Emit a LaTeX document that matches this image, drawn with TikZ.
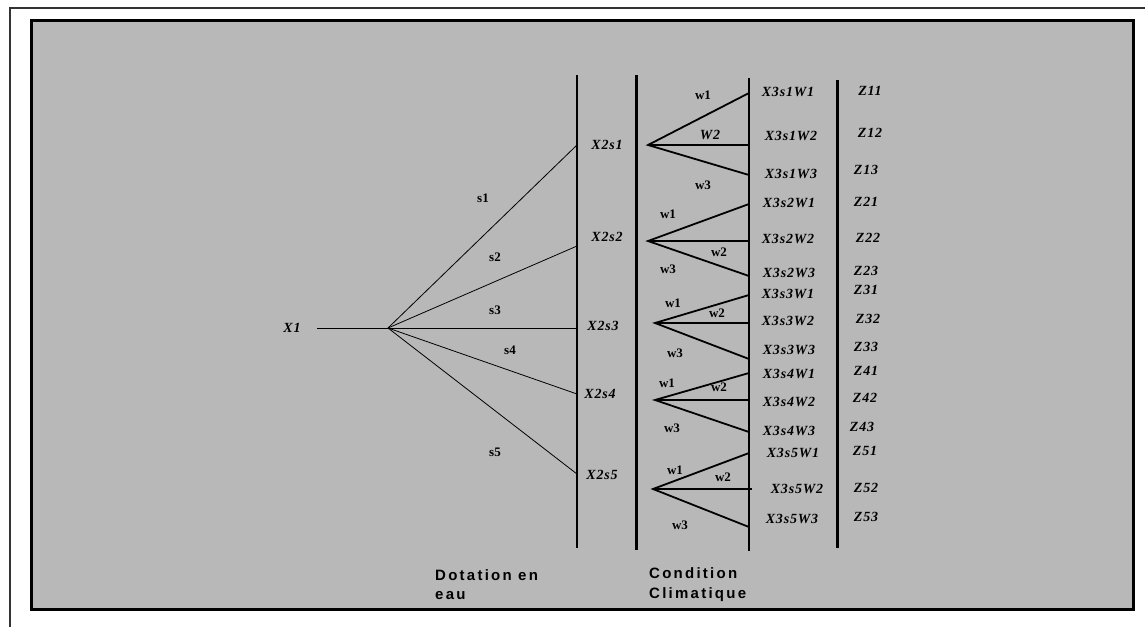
\documentclass[tikz,border=0pt]{standalone}
\usepackage{fontspec}
\setmainfont{Liberation Serif}
\newfontfamily\labfont[LetterSpace=6]{Liberation Serif}
\newfontfamily\capfont[LetterSpace=15]{Liberation Sans}
\definecolor{panelgray}{RGB}{184,184,184}
\tikzset{
	lab/.style={inner sep=0pt, font=\labfont\bfseries\itshape\fontsize{14}{14}\selectfont},
	tag/.style={inner sep=0pt, font=\bfseries\fontsize{13}{13}\selectfont},
	captext/.style={inner sep=0pt, anchor=base west, font=\capfont\bfseries\fontsize{15}{15}\selectfont},
	branch/.style={line width=0.8pt},
	twig/.style={line width=1.8pt},
}

\begin{document}
\begin{tikzpicture}[x=1pt, y=-1pt]
	\useasboundingbox (0, 0) rectangle (1145, 627);
	% frames
	\draw[line width=1.5pt, black!80] (10, 627) -- (10, 8) -- (1145, 8);
	\draw[line width=3pt, fill=panelgray] (31, 20) rectangle (1133, 609);
	% columns
	\draw[line width=1.3pt] (577, 75) -- (577, 548);
	\draw[line width=3pt] (636, 75) -- (636, 550);
	\draw[line width=1.8pt] (749, 78) -- (749, 551);
	\draw[line width=3pt] (837, 80) -- (837, 548);
	% first stage
	\node[lab] (x1) at (292, 328) {X1};
	\coordinate (x1end) at (317, 328);
	\coordinate (fan) at (388, 328);
	\draw[branch] (x1end) -- (fan);
	\coordinate (b1) at (577, 145);
	\coordinate (b2) at (577, 246);
	\coordinate (b3) at (577, 328);
	\coordinate (b4) at (577, 394);
	\coordinate (b5) at (577, 474);
	\draw[branch] (fan) -- (b1);
	\draw[branch] (fan) -- (b2);
	\draw[branch] (fan) -- (b3);
	\draw[branch] (fan) -- (b4);
	\draw[branch] (fan) -- (b5);
	\node[tag] (s1) at (483, 198) {s1};
	\node[tag] (s2) at (495, 257) {s2};
	\node[tag] (s3) at (495, 310) {s3};
	\node[tag] (s4) at (510, 350) {s4};
	\node[tag] (s5) at (495, 452) {s5};
	\node[lab] (x2s1) at (607, 145) {X2s1};
	\node[lab] (x2s2) at (607, 237) {X2s2};
	\node[lab] (x2s3) at (603, 326) {X2s3};
	\node[lab] (x2s4) at (600, 394) {X2s4};
	\node[lab] (x2s5) at (602, 475) {X2s5};
	% second stage
	\coordinate (o1) at (648, 145);
	\coordinate (o2) at (648, 241);
	\coordinate (o3) at (655, 323);
	\coordinate (o4) at (655, 400);
	\coordinate (o5) at (653, 489);
	\coordinate (e11) at (749, 93);
	\coordinate (e12) at (749, 145);
	\coordinate (e13) at (749, 175);
	\coordinate (e21) at (749, 204);
	\coordinate (e22) at (749, 241);
	\coordinate (e23) at (749, 276);
	\coordinate (e31) at (749, 295);
	\coordinate (e32) at (749, 323);
	\coordinate (e33) at (749, 359);
	\coordinate (e41) at (749, 373);
	\coordinate (e42) at (749, 400);
	\coordinate (e43) at (749, 432);
	\coordinate (e51) at (749, 453);
	\coordinate (e52) at (752, 489);
	\coordinate (e53) at (749, 527);
	\draw[twig] (e11) -- (o1) -- (e13);
	\draw[twig] (o1) -- (e12);
	\draw[twig] (e21) -- (o2) -- (e23);
	\draw[twig] (o2) -- (e22);
	\draw[twig] (e31) -- (o3) -- (e33);
	\draw[twig] (o3) -- (e32);
	\draw[twig] (e41) -- (o4) -- (e43);
	\draw[twig] (o4) -- (e42);
	\draw[twig] (e51) -- (o5) -- (e53);
	\draw[twig] (o5) -- (e52);
	\node[tag] (w11) at (703, 95) {w1};
	\node[lab] (w12) at (710, 135) {W2};
	\node[tag] (w13) at (703, 185) {w3};
	\node[tag] (w21) at (668, 214) {w1};
	\node[tag] (w22) at (719, 252) {w2};
	\node[tag] (w23) at (668, 269) {w3};
	\node[tag] (w31) at (673, 303) {w1};
	\node[tag] (w32) at (717, 313) {w2};
	\node[tag] (w33) at (675, 353) {w3};
	\node[tag] (w41) at (667, 383) {w1};
	\node[tag] (w42) at (719, 387) {w2};
	\node[tag] (w43) at (672, 428) {w3};
	\node[tag] (w51) at (675, 470) {w1};
	\node[tag] (w52) at (723, 477) {w2};
	\node[tag] (w53) at (680, 525) {w3};
	% outcomes
	\node[lab] (x311) at (788, 92) {X3s1W1};
	\node[lab] (x312) at (791, 136) {X3s1W2};
	\node[lab] (x313) at (791, 174) {X3s1W3};
	\node[lab] (x321) at (789, 203) {X3s2W1};
	\node[lab] (x322) at (788, 239) {X3s2W2};
	\node[lab] (x323) at (789, 273) {X3s2W3};
	\node[lab] (x331) at (788, 294) {X3s3W1};
	\node[lab] (x332) at (788, 321) {X3s3W2};
	\node[lab] (x333) at (789, 350) {X3s3W3};
	\node[lab] (x341) at (789, 374) {X3s4W1};
	\node[lab] (x342) at (789, 402) {X3s4W2};
	\node[lab] (x343) at (789, 431) {X3s4W3};
	\node[lab] (x351) at (793, 453) {X3s5W1};
	\node[lab] (x352) at (797, 489) {X3s5W2};
	\node[lab] (x353) at (792, 519) {X3s5W3};
	\node[lab] (z11) at (870, 91) {Z11};
	\node[lab] (z12) at (870, 133) {Z12};
	\node[lab] (z13) at (866, 170) {Z13};
	\node[lab] (z21) at (866, 202) {Z21};
	\node[lab] (z22) at (868, 238) {Z22};
	\node[lab] (z23) at (866, 271) {Z23};
	\node[lab] (z31) at (866, 290) {Z31};
	\node[lab] (z32) at (868, 319) {Z32};
	\node[lab] (z33) at (866, 347) {Z33};
	\node[lab] (z41) at (866, 371) {Z41};
	\node[lab] (z42) at (865, 398) {Z42};
	\node[lab] (z43) at (862, 427) {Z43};
	\node[lab] (z51) at (865, 451) {Z51};
	\node[lab] (z52) at (866, 488) {Z52};
	\node[lab] (z53) at (866, 517) {Z53};
	% captions
	\node[captext] (dot1) at (435, 580) {Dotation en};
	\node[captext] (dot2) at (435, 599) {eau};
	\node[captext] (cond1) at (649, 578) {Condition};
	\node[captext] (cond2) at (649, 598) {Climatique};
\end{tikzpicture}
\end{document}
